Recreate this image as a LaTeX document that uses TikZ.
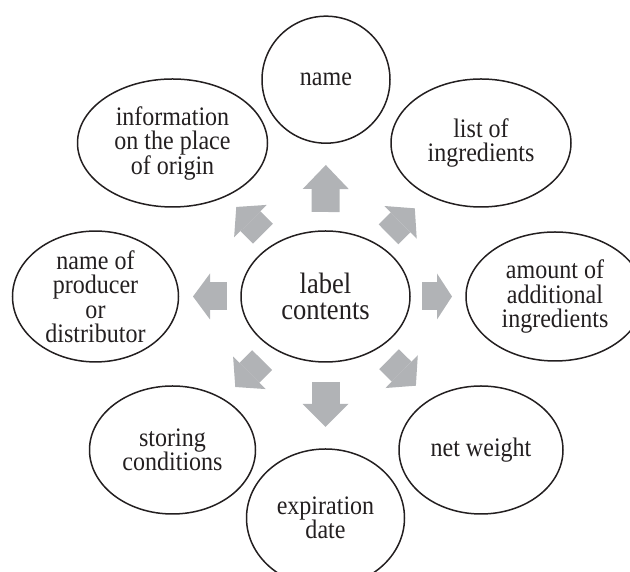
\documentclass[tikz,border=0pt]{standalone}
\usepackage{fontspec}
\setmainfont{Liberation Serif}[FakeStretch=0.9]
\usetikzlibrary{shapes.geometric,arrows.meta,calc}
\definecolor{arrowgray}{HTML}{B1B3B6}
\definecolor{inkblack}{HTML}{231F20}
\tikzset{
  topic/.style={ellipse, draw=inkblack, line width=1.5pt, inner sep=0pt,
    align=center, text=inkblack, font=\fontsize{26.7}{24.5}\selectfont},
  hub/.style={topic, font=\fontsize{29.5}{26.7}\selectfont},
  blockarrow/.style={line width=28pt, draw=arrowgray,
    -{Triangle[width=46pt,length=#1,line width=0pt]}}
}
\begin{document}
\begin{tikzpicture}[x=1pt,y=1pt]
  \useasboundingbox (0,0) rectangle (630,572);
  % hub
  \node[hub, minimum width=169pt, minimum height=131pt] (lc) at (325.5,275.5) {label\\contents};
  % topics round the hub
  \node[topic, minimum width=128pt, minimum height=127pt] (name) at (326,492.3) {name};
  \node[topic, minimum width=190pt, minimum height=128pt] (origin) at (172.5,429) {information\\on the place\\of origin};
  \node[topic, minimum width=180pt, minimum height=128pt] (ingr) at (481,429) {list of\\ingredients};
  \node[topic, minimum width=178pt, minimum height=129pt] (extra) at (555,275.5) {amount of\\additional\\ingredients};
  \node[topic, minimum width=166pt, minimum height=129pt] (producer) at (95.5,275.5) {name of\\producer\\or\\distributor};
  \node[topic, minimum width=166pt, minimum height=128pt] (storing) at (172.5,122) {storing\\conditions};
  \node[topic, minimum width=164pt, minimum height=128pt] (weight) at (481,122) {net weight};
  \node[topic, minimum width=158pt, minimum height=138pt] (expiry) at (325.5,54) {expiration\\date};
  % block arrows, hub -> topic
  \foreach \tgt/\dA/\dB/\hl in {name/84.5/131.5/24, ingr/88.5/125.5/20, extra/96.5/126.5/15,
      weight/89.3/127/20, expiry/85.5/130.5/23, storing/89.8/127.8/20,
      producer/98.5/132.5/17, origin/88.7/126.4/20}
    \draw[blockarrow=\hl pt] ($(lc)!\dA pt!(\tgt)$) -- ($(lc)!\dB pt!(\tgt)$);
\end{tikzpicture}
\end{document}
